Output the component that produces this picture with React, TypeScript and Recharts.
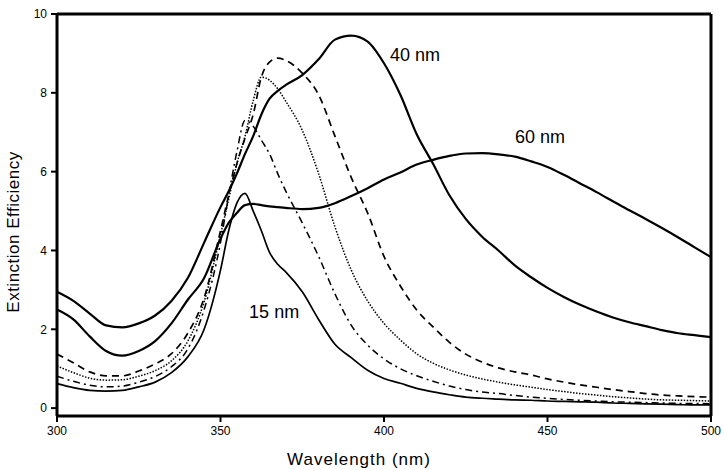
import { Label, Line, LineChart, ReferenceDot, ReferenceLine, XAxis, YAxis } from "recharts";

// Extinction spectra for silver particles of several sizes
const wavelength = [
  300, 305, 310, 315, 320, 325, 330, 335, 340, 345, 350, 352.5, 355, 357.5, 360, 362.5, 365, 367.5, 370,
  375, 380, 385, 390, 395, 400, 405, 410, 415, 420, 425, 430, 435, 440, 445, 450, 455, 460, 465, 470, 475,
  480, 485, 490, 495, 500,
];
const nm40 = [
  2.95, 2.72, 2.4, 2.1, 2.05, 2.15, 2.35, 2.72, 3.3, 4.2, 5.1, 5.5, 5.95, 6.45, 6.9, 7.45, 7.85, 8.05, 8.2,
  8.45, 8.85, 9.35, 9.45, 9.3, 8.75, 7.95, 6.95, 6.2, 5.4, 4.8, 4.35, 4.0, 3.62, 3.32, 3.05, 2.82, 2.62, 2.45,
  2.3, 2.18, 2.08, 1.98, 1.9, 1.85, 1.8,
];
const nm60 = [
  2.5, 2.25, 1.82, 1.45, 1.33, 1.45, 1.7, 2.15, 2.75, 3.3, 4.3, 4.7, 4.95, 5.15, 5.18, 5.15, 5.12, 5.1, 5.08,
  5.05, 5.08, 5.2, 5.38, 5.58, 5.8, 5.98, 6.18, 6.3, 6.4, 6.46, 6.47, 6.44, 6.38, 6.26, 6.12, 5.92, 5.7, 5.48,
  5.25, 5.02, 4.8, 4.57, 4.33, 4.08, 3.83,
];
const dashed = [
  1.37, 1.15, 0.92, 0.82, 0.82, 0.94, 1.12, 1.38, 1.9, 2.8, 4.5, 5.4, 6.2, 6.85, 7.45, 8.4, 8.78, 8.88, 8.82,
  8.5, 7.95, 6.9, 5.85, 4.95, 3.85, 3.1, 2.49, 2.06, 1.67, 1.37, 1.17, 1.02, 0.92, 0.84, 0.74, 0.66, 0.59, 0.53,
  0.47, 0.42, 0.37, 0.33, 0.31, 0.29, 0.28,
];
const dotted = [
  1.07, 0.9, 0.76, 0.71, 0.72, 0.81, 0.95, 1.2, 1.7, 2.7, 4.4, 5.3, 6.2, 6.9, 7.8, 8.4, 8.32, 8.1, 7.78,
  7.05, 5.95, 4.6, 3.5, 2.72, 2.15, 1.73, 1.38, 1.14, 0.97, 0.84, 0.74, 0.66, 0.59, 0.53, 0.47, 0.42, 0.37,
  0.33, 0.29, 0.26, 0.23, 0.21, 0.2, 0.19, 0.18,
];
const dashDot = [
  0.81, 0.68, 0.58, 0.54, 0.56, 0.66, 0.8, 1.05, 1.5, 2.5, 4.2, 5.4, 6.5, 7.3, 7.15, 6.8, 6.45, 5.95, 5.5,
  4.7, 3.85, 2.9, 2.1, 1.6, 1.25, 1.0, 0.82, 0.68, 0.56, 0.47, 0.41, 0.37, 0.32, 0.28, 0.25, 0.22, 0.2, 0.18,
  0.16, 0.15, 0.14, 0.13, 0.12, 0.12, 0.11,
];
const nm15 = [
  0.62, 0.52, 0.45, 0.43, 0.45, 0.54, 0.66, 0.9, 1.3, 2.0, 3.5, 4.5, 5.2, 5.45, 5.0, 4.5, 3.95, 3.65, 3.45,
  2.95, 2.25, 1.62, 1.28, 0.96, 0.75, 0.63, 0.5, 0.41, 0.34, 0.28, 0.25, 0.23, 0.21, 0.2, 0.18, 0.17, 0.16,
  0.15, 0.13, 0.12, 0.11, 0.1, 0.09, 0.08, 0.08,
];

const xTicks = [300, 350, 400, 450, 500];
const yTicks = [0, 2, 4, 6, 8, 10];

const curveLabels = [
  { text: "40 nm", x: 409.5, y: 8.98 },
  { text: "60 nm", x: 447.7, y: 6.88 },
  { text: "15 nm", x: 366.4, y: 2.44 },
];

const data = wavelength.map((w, i) => ({
  w,
  nm40: nm40[i],
  nm60: nm60[i],
  dashed: dashed[i],
  dotted: dotted[i],
  dashDot: dashDot[i],
  nm15: nm15[i],
}));

const font = "'Liberation Sans', Arial, sans-serif";
const tick = { fontSize: 12, fill: "#000", fontFamily: font };

export default function App() {
  return (
    <div style={{ width: 724, height: 470, background: "#fff" }}>
      <style>{`body{margin:0}`}</style>
      <LineChart width={724} height={470} data={data} margin={{ top: 14, right: 13, left: 0, bottom: 0 }}>
        <XAxis
          dataKey="w"
          type="number"
          domain={[300, 500]}
          ticks={xTicks}
          tick={tick}
          tickSize={6}
          tickMargin={4}
          height={54}
          axisLine={{ stroke: "#000", strokeWidth: 3 }}
          tickLine={{ stroke: "#000", strokeWidth: 2 }}
        >
          <Label
            value="Wavelength (nm)"
            position="insideBottom"
            offset={5}
            dx={-25}
            style={{ fontSize: 17, fontFamily: font, fill: "#000", letterSpacing: 1 }}
          />
        </XAxis>
        <YAxis
          type="number"
          domain={[-0.2, 10]}
          ticks={yTicks}
          tick={tick}
          tickSize={6}
          tickMargin={4}
          width={57}
          allowDataOverflow
          axisLine={{ stroke: "#000", strokeWidth: 3 }}
          tickLine={{ stroke: "#000", strokeWidth: 2 }}
        >
          <Label
            value="Extinction Efficiency"
            position="center"
            angle={-90}
            dx={-16}
            dy={17}
            style={{ fontSize: 17, fontFamily: font, fill: "#000", letterSpacing: 0.5 }}
          />
        </YAxis>
        <ReferenceLine y={10} stroke="#000" strokeWidth={3} />
        <ReferenceLine x={500} stroke="#000" strokeWidth={3} />

        <Line type="monotone" dataKey="nm15" stroke="#000" strokeWidth={1.7} dot={false} isAnimationActive={false} />
        <Line
          type="monotone"
          dataKey="dashDot"
          stroke="#000"
          strokeWidth={1.5}
          strokeDasharray="7 4 2 4"
          dot={false}
          isAnimationActive={false}
        />
        <Line
          type="monotone"
          dataKey="dotted"
          stroke="#000"
          strokeWidth={1.5}
          strokeDasharray="1.5 1.5"
          dot={false}
          isAnimationActive={false}
        />
        <Line
          type="monotone"
          dataKey="dashed"
          stroke="#000"
          strokeWidth={1.7}
          strokeDasharray="7 5"
          dot={false}
          isAnimationActive={false}
        />
        <Line type="monotone" dataKey="nm60" stroke="#000" strokeWidth={2.2} dot={false} isAnimationActive={false} />
        <Line type="monotone" dataKey="nm40" stroke="#000" strokeWidth={2.2} dot={false} isAnimationActive={false} />

        {curveLabels.map((l) => (
          <ReferenceDot
            key={l.text}
            x={l.x}
            y={l.y}
            r={0}
            fill="none"
            stroke="none"
            label={{ value: l.text, position: "center", fontSize: 18, fill: "#000", fontFamily: font }}
          />
        ))}
      </LineChart>
    </div>
  );
}
